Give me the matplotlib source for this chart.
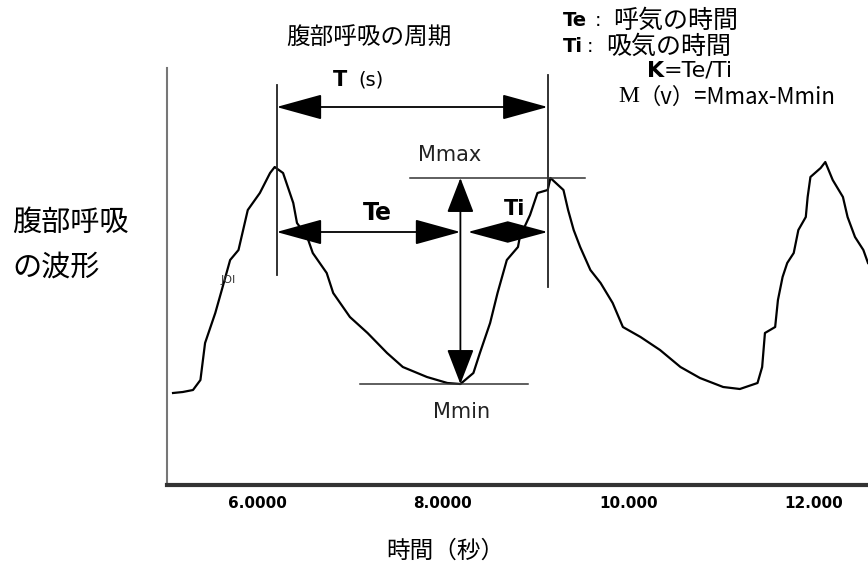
import numpy as np
import matplotlib.pyplot as plt

plt.rcParams['font.family'] = ['DejaVu Sans', 'Noto Sans CJK JP']

# abdominal breathing waveform (time s, amplitude)
time_s = [5.095, 5.20, 5.31, 5.39, 5.44, 5.55, 5.62, 5.71, 5.80, 5.90,
          6.03, 6.14, 6.19, 6.28, 6.39, 6.43, 6.54, 6.60, 6.75, 6.82,
          7.00, 7.19, 7.40, 7.57, 7.83, 8.05, 8.19, 8.33, 8.40, 8.51,
          8.59, 8.69, 8.81, 8.83, 8.94, 9.02, 9.13, 9.16, 9.30, 9.35,
          9.41, 9.48, 9.59, 9.70, 9.83, 9.94, 10.13, 10.34, 10.56, 10.77,
          11.02, 11.20, 11.39, 11.44, 11.47, 11.58, 11.61, 11.66, 11.71, 11.78,
          11.83, 11.91, 11.93, 11.96, 12.07, 12.12, 12.20, 12.31, 12.36, 12.44,
          12.53, 12.58]
amp = [0.92, 0.93, 0.95, 1.05, 1.42, 1.72, 1.95, 2.25, 2.35, 2.75,
       2.92, 3.12, 3.18, 3.12, 2.82, 2.62, 2.48, 2.32, 2.12, 1.92,
       1.68, 1.52, 1.32, 1.18, 1.08, 1.02, 1.01, 1.12, 1.32, 1.62,
       1.92, 2.25, 2.38, 2.48, 2.70, 2.92, 2.95, 3.07, 2.95, 2.75,
       2.55, 2.38, 2.15, 2.02, 1.82, 1.58, 1.48, 1.35, 1.18, 1.07,
       0.98, 0.96, 1.02, 1.18, 1.52, 1.58, 1.85, 2.08, 2.22, 2.32,
       2.55, 2.68, 2.88, 3.08, 3.17, 3.23, 3.05, 2.88, 2.68, 2.48,
       2.35, 2.22]

tick_vals = [6, 8, 10, 12]
tick_text = ['6.0000', '8.0000', '10.000', '12.000']

t = np.array(time_s)
a = np.array(amp)

W, H = 868, 564
fig = plt.figure(figsize=(W / 100, H / 100), dpi=100, facecolor='white')


def fx(x):
    return x / W


def fy(y):
    return 1 - y / H


ax = fig.add_axes([fx(167), fy(485), fx(868) - fx(167), fy(68) - fy(485)])
ax.set_xlim(5.03, 12.58)
ax.set_ylim(0, 4.17)
ax.plot(t, a, color='black', lw=1.6)

for s in ['top', 'right']:
    ax.spines[s].set_visible(False)
ax.spines['left'].set_color('#777777')
ax.spines['left'].set_linewidth(1.5)
ax.spines['bottom'].set_color('#333333')
ax.spines['bottom'].set_linewidth(3)
ax.set_yticks([])
ax.set_xticks(tick_vals)
ax.set_xticklabels(tick_text, fontsize=11, fontweight='bold')
ax.tick_params(axis='x', length=0, pad=8)

# key points of the first breathing period
first = t < 7
i_pk1 = np.argmax(np.where(first, a, -1))
mid = (t > 7) & (t < 9)
i_min = np.argmin(np.where(mid, a, 99))
second = (t > 8.5) & (t < 10)
i_pk2 = np.argmax(np.where(second, a, -1))
t1, t2, tm = t[i_pk1] + 0.02, t[i_pk2] - 0.03, t[i_min]
vmax, vmin = a[i_pk2], a[i_min]

line_kw = dict(color='#222222', lw=1.3, clip_on=False)
ax.plot([t1, t1], [2.10, 4.00], **line_kw)
ax.plot([t2, t2], [1.98, 4.10], **line_kw)
ax.plot([tm - 0.54, t2 + 0.40], [vmax, vmax], color='#333333', lw=1.1)
ax.plot([tm - 1.08, tm + 0.73], [vmin, vmin], color='#333333', lw=1.1)


def arrow(p0, p1, hl=2.9, hw=0.8):
    ax.annotate('', xy=p1, xytext=p0,
                arrowprops=dict(arrowstyle='<|-|>,head_length=%s,head_width=%s' % (hl, hw),
                                mutation_scale=10, color='black', lw=1.3,
                                shrinkA=0, shrinkB=0))


arrow((t1, 3.78), (t2, 3.78))
arrow((t1, 2.53), (tm, 2.53))
arrow((tm + 0.08, 2.53), (t2, 2.53), hl=2.6, hw=0.7)
arrow((tm, vmin), (tm, vmax), hl=2.2, hw=0.85)

cjk = ['Noto Sans CJK JP', 'DejaVu Sans']
fig.text(fx(369), fy(38), '腹部呼吸の周期', family=cjk, fontsize=17,
         ha='center', va='center')
fig.text(fx(12), fy(223), '腹部呼吸', family=cjk, fontsize=21, va='center')
fig.text(fx(12), fy(268), 'の波形', family=cjk, fontsize=21, va='center')
fig.text(fx(445), fy(551), '時間（秒）', family=cjk, fontsize=17,
         ha='center', va='center')

fig.text(fx(333), fy(80), 'T', fontsize=15, fontweight='bold', va='center')
fig.text(fx(358), fy(80), '(s)', fontsize=14, va='center')
fig.text(fx(377), fy(213), 'Te', fontsize=17, fontweight='bold',
         ha='center', va='center')
fig.text(fx(515), fy(209), 'Ti', fontsize=15, fontweight='bold',
         ha='center', va='center')
fig.text(fx(450), fy(155), 'Mmax', fontsize=15, ha='center', va='center',
         color='#222222')
fig.text(fx(462), fy(412), 'Mmin', fontsize=15, ha='center', va='center',
         color='#222222')
fig.text(fx(228), fy(280), 'JOI', fontsize=8, ha='center', va='center',
         color='#333333')

fig.text(fx(563), fy(21), 'Te', fontsize=14, fontweight='bold', va='center')
fig.text(fx(595), fy(21), ':', fontsize=14, va='center')
fig.text(fx(613), fy(21), '呼気の時間', family=cjk, fontsize=18, va='center')
fig.text(fx(563), fy(47), 'Ti', fontsize=14, fontweight='bold', va='center')
fig.text(fx(587), fy(47), ':', fontsize=14, va='center')
fig.text(fx(606), fy(47), '吸気の時間', family=cjk, fontsize=18, va='center')
fig.text(fx(647), fy(71), 'K', fontsize=16, fontweight='bold', va='center')
fig.text(fx(664), fy(71), '=Te/Ti', fontsize=16, va='center')
fig.text(fx(618), fy(97), 'M', family='Liberation Serif', fontsize=17,
         va='center')
fig.text(fx(638), fy(97), '（v）=Mmax-Mmin', family=cjk, fontsize=16,
         va='center')

fig.savefig('out.png', dpi=100, facecolor='white')
